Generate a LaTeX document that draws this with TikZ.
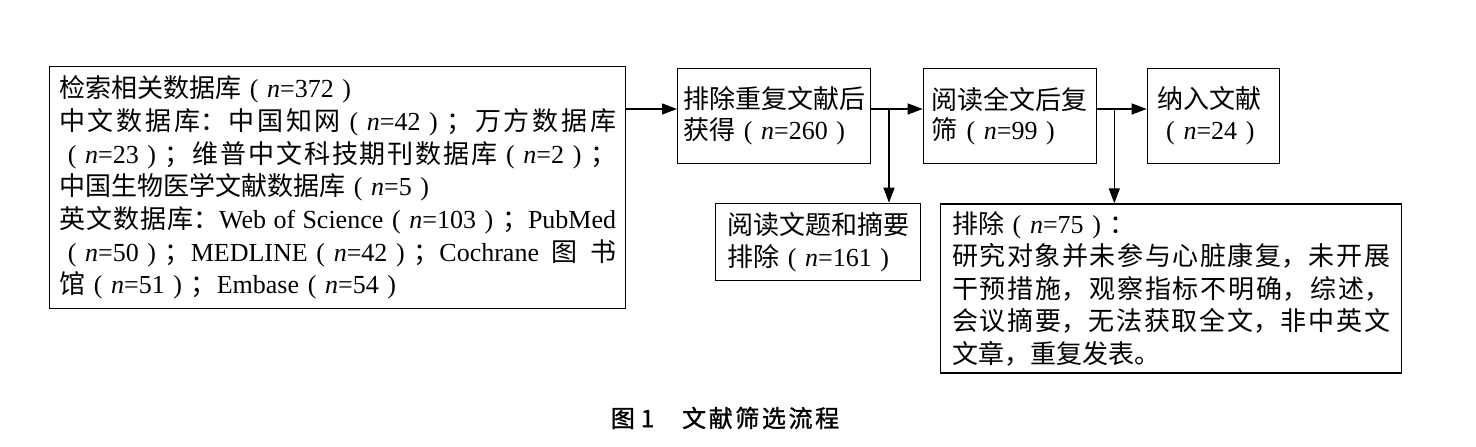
\documentclass[tikz,border=0pt]{standalone}
\usepackage{fontspec}
\setmainfont{Noto Sans CJK SC}
\newfontfamily\latinfont{Liberation Serif}
\newfontfamily\capfont{Noto Sans CJK SC}[AutoFakeBold=1.2]
\usetikzlibrary{arrows.meta}
\XeTeXlinebreaklocale "zh"
\XeTeXlinebreakskip=0pt plus 4pt minus 0.5pt
\tolerance=9999
\newcommand{\lpar}{\makebox[1em][c]{\latinfont(}}
\newcommand{\rpar}{\makebox[1em][c]{\latinfont)}}
\newcommand{\nval}[1]{\lpar{\latinfont\textit{n}=#1}\rpar}
\newcommand{\latn}[1]{{\latinfont #1}}
\begin{document}
\begin{tikzpicture}[x=1pt,y=-1pt,
  box/.style={draw,line width=1.3pt,rectangle,inner sep=0pt,anchor=north west},
  bigtext/.style={font={\fontsize{26pt}{32.7pt}\selectfont}},
  smalltext/.style={font={\fontsize{26pt}{30.5pt}\selectfont}},
  arr/.style={line width=1.3pt,-{Triangle[length=15pt,width=11pt]}}]
\useasboundingbox (0,0) rectangle (1476,447);

\node[box,bigtext,minimum width=576pt,minimum height=242pt,text width=557pt,align=justify] (b1) at (49,66)
{检索相关数据库\nval{372}\newline
中文数据库：中国知网\nval{42}；万方数据库\linebreak
\nval{23}；维普中文科技期刊数据库\nval{2}；\linebreak
中国生物医学文献数据库\nval{5}\newline
英文数据库：\latn{Web of Science}\nval{103}；\latn{PubMed}\linebreak
\nval{50}；\latn{MEDLINE}\nval{42}；\latn{Cochrane} 图 书\linebreak
馆\nval{51}；\latn{Embase}\nval{54}};

\node[box,smalltext,minimum width=193pt,minimum height=95.3pt,text width=182pt,align=left] (b2) at (677,67.7)
{排除重复文献后\\获得\nval{260}};

\node[box,smalltext,minimum width=173pt,minimum height=95.3pt,text width=156pt,align=left] (b3) at (922.7,67.7)
{阅读全文后复\\筛\nval{99}};

\node[box,smalltext,minimum width=132.3pt,minimum height=95.3pt,text width=112pt,align=left] (b4) at (1146.7,67.7)
{纳入文献\\\nval{24}};

\node[box,font={\fontsize{26pt}{31.6pt}\selectfont},minimum width=205pt,minimum height=77.3pt,text width=182pt,align=left] (b5) at (715,202.7)
{阅读文题和摘要\\排除\nval{161}};

\node[box,font={\fontsize{26pt}{32.5pt}\selectfont},minimum width=460.7pt,minimum height=169pt,text width=438pt,align=justify] (b6) at (940,203.3)
{排除\nval{75}：\newline
研究对象并未参与心脏康复，未开展\linebreak
干预措施，观察指标不明确，综述，\linebreak
会议摘要，无法获取全文，非中英文\linebreak
文章，重复发表。};

\coordinate (a1) at ([yshift=7pt]b2.west);
\coordinate (a2) at ([yshift=7pt]b3.west);
\coordinate (a3) at ([yshift=7pt]b4.west);
\coordinate (j1) at (889,108.3);
\coordinate (j2) at (1114.3,108.3);

\draw[arr] (b1.east |- a1) -- (a1);
\draw[arr] (b2.east |- a2) -- (a2);
\draw[arr] (b3.east |- a3) -- (a3);
\draw[arr] (j1) -- (j1 |- b5.north);
\draw[arr] (j2) -- (j2 |- b6.north);

\node[font={\capfont\bfseries\fontsize{24pt}{24pt}\selectfont}] (cap) at (725,418)
{图\kern6pt 1\kern28pt 文\kern2.6pt 献\kern2.6pt 筛\kern2.6pt 选\kern2.6pt 流\kern2.6pt 程};
\end{tikzpicture}
\end{document}
